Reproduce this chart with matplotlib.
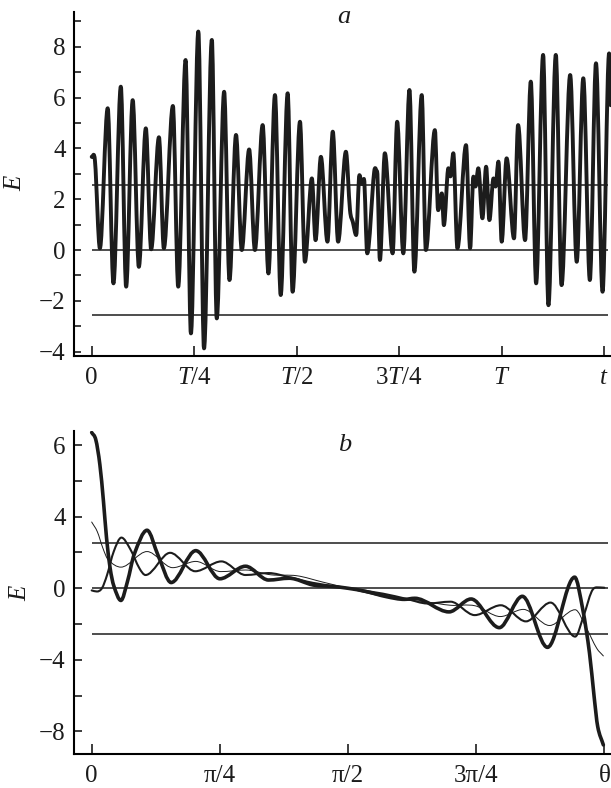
# E(t) signal and angular distributions E(theta)
import numpy as np
import matplotlib
matplotlib.use('Agg')
import matplotlib.pyplot as plt
from matplotlib.path import Path
from matplotlib.patches import PathPatch

plt.rcParams['font.family'] = 'serif'
plt.rcParams['font.serif'] = ['Liberation Serif', 'DejaVu Serif']
plt.rcParams['mathtext.fontset'] = 'custom'
plt.rcParams['mathtext.rm'] = 'Liberation Serif'
plt.rcParams['mathtext.it'] = 'Liberation Serif:italic'

## panel a: time in units of T, E values (peaks / troughs)
t_a = [0.000, 0.008, 0.020, 0.039, 0.053, 0.071, 0.084, 0.100, 0.115, 0.132,
       0.145, 0.164, 0.176, 0.198, 0.211, 0.229, 0.242, 0.260, 0.274, 0.293,
       0.305, 0.323, 0.336, 0.352, 0.366, 0.384, 0.398, 0.417, 0.431, 0.447,
       0.461, 0.478, 0.490, 0.508, 0.520, 0.537, 0.546, 0.559, 0.575, 0.588,
       0.601, 0.620, 0.630, 0.637, 0.645, 0.653, 0.659, 0.664, 0.672, 0.689,
       0.696, 0.703, 0.715, 0.734, 0.745, 0.760, 0.775, 0.787, 0.805, 0.815,
       0.837, 0.845, 0.854, 0.859, 0.870, 0.875, 0.882, 0.892, 0.913, 0.923,
       0.931, 0.936, 0.943, 0.953, 0.962, 0.970, 0.980, 0.985, 0.992, 1.000,
       1.012, 1.030, 1.040, 1.057, 1.071, 1.084, 1.101, 1.114, 1.132, 1.146,
       1.167, 1.183, 1.199, 1.215, 1.230, 1.246, 1.262, 1.266]
E_a = [3.67, 3.50, 0.07, 5.58, -1.31, 6.43, -1.44, 5.90, -0.66, 4.79,
       0.03, 4.44, 0.07, 5.67, -1.44, 7.48, -3.28, 8.60, -3.87, 8.27,
       -2.69, 6.23, -1.18, 4.53, 0.00, 3.96, 0.00, 4.92, -0.92, 6.10,
       -1.77, 6.17, -1.64, 5.05, -0.46, 2.82, 0.39, 3.67, 0.33, 4.66,
       0.33, 3.87, 1.57, 1.10, 0.59, 2.95, 2.60, 2.80, -0.13, 3.08,
       3.10, -0.39, 3.81, -0.13, 5.05, -0.13, 6.30, -0.85, 6.10, 0.00,
       4.72, 1.57, 2.23, 0.98, 3.22, 2.90, 3.81, 0.07, 4.13, 0.07,
       2.89, 2.50, 3.22, 1.25, 3.28, 1.18, 2.82, 2.50, 3.48, 0.33,
       3.61, 0.46, 4.92, 0.39, 6.63, -1.31, 7.68, -2.17, 7.68, -1.38,
       6.89, -0.46, 6.76, -1.18, 7.35, -1.64, 7.74, 5.70]
level = 2.55

## panel b: theta in units of pi, three curves
th_thick = [0.000, 0.008, 0.016, 0.023, 0.029, 0.036, 0.043, 0.057, 0.070, 0.083,
            0.108, 0.130, 0.155, 0.203, 0.250, 0.300, 0.345, 0.385, 0.432, 0.470,
            0.500, 0.535, 0.575, 0.610, 0.630, 0.697, 0.740, 0.795, 0.840, 0.889,
            0.942, 0.958, 0.971, 0.980, 0.987, 0.998]
E_thick = [8.70, 8.30, 6.90, 4.85, 2.80, 1.12, 0.15, -0.68, 0.40, 1.90,
           3.24, 1.80, 0.32, 2.10, 0.53, 1.23, 0.46, 0.56, 0.18, 0.10,
           0.00, -0.18, -0.47, -0.62, -0.56, -1.32, -0.60, -2.20, -0.45, -3.30,
           0.62, -1.21, -3.63, -6.06, -7.73, -8.75]

th_thin = [0.000, 0.011, 0.022, 0.032, 0.057, 0.108, 0.158, 0.203, 0.252, 0.300,
           0.350, 0.400, 0.450, 0.500, 0.550, 0.600, 0.650, 0.700, 0.748, 0.797,
           0.842, 0.893, 0.943, 0.965, 0.985, 0.998]
E_thin = [3.70, 3.16, 2.23, 1.60, 1.18, 2.05, 1.15, 1.50, 0.93, 1.02,
          0.75, 0.70, 0.35, 0.00, -0.35, -0.62, -0.75, -0.95, -0.98, -1.58,
          -1.18, -2.08, -1.20, -2.23, -3.35, -3.78]

th_mid = [0.000, 0.010, 0.020, 0.030, 0.043, 0.058, 0.075, 0.093, 0.105, 0.153,
          0.202, 0.253, 0.300, 0.345, 0.385, 0.432, 0.500, 0.568, 0.615, 0.655,
          0.700, 0.747, 0.798, 0.847, 0.895, 0.943, 0.960, 0.975, 0.985, 1.000]
E_mid = [-0.12, -0.18, 0.00, 0.74, 2.05, 2.83, 2.20, 1.12, 0.74, 1.98,
         0.95, 1.50, 0.74, 0.85, 0.62, 0.30, 0.00, -0.30, -0.60, -0.85,
         -0.75, -1.50, -0.95, -1.85, -0.80, -2.70, -1.50, -0.19, 0.05, 0.03]

ink = '#1c1c1c'
fs = 18

def smooth_line(ax, x, y, lw):
    # draw a smooth curve through the read points (cubic bezier, flat at peaks)
    x = np.asarray(x, float)
    y = np.asarray(y, float)
    n = len(x)
    s = np.zeros(n)
    for i in range(n):
        if i == 0:
            s[i] = (y[1] - y[0]) / (x[1] - x[0])
        elif i == n - 1:
            s[i] = (y[-1] - y[-2]) / (x[-1] - x[-2])
        elif (y[i] - y[i-1]) * (y[i+1] - y[i]) <= 0:
            s[i] = 0.0
        else:
            s[i] = (y[i+1] - y[i-1]) / (x[i+1] - x[i-1])
    verts = [(x[0], y[0])]
    codes = [Path.MOVETO]
    for i in range(n - 1):
        h = x[i+1] - x[i]
        verts += [(x[i] + h/3, y[i] + s[i]*h/3),
                  (x[i+1] - h/3, y[i+1] - s[i+1]*h/3),
                  (x[i+1], y[i+1])]
        codes += [Path.CURVE4] * 3
    ax.add_patch(PathPatch(Path(verts, codes), fill=False, edgecolor=ink,
                           lw=lw, joinstyle='round', capstyle='round'))

def style(ax):
    ax.spines['top'].set_visible(False)
    ax.spines['right'].set_visible(False)
    ax.spines['left'].set_linewidth(1.5)
    ax.spines['bottom'].set_linewidth(1.5)
    ax.tick_params(axis='both', direction='in', width=1.2, labelsize=fs, colors=ink)
    ax.tick_params(axis='x', length=7, pad=8)
    ax.tick_params(axis='y', length=5, pad=6)

fig = plt.figure(figsize=(6.11, 7.88), dpi=100)

# --- a ---
ax1 = fig.add_axes([0.1211, 0.5482, 0.8789, 0.4366])
smooth_line(ax1, t_a, E_a, 2.8)
for yv in (level, 0.0, -level):
    ax1.hlines(yv, 0.0, 1.26, color=ink, lw=1.1)
ax1.set_xlim(-0.0432, 1.2666)
ax1.set_ylim(-4.17, 9.37)
ax1.set_xticks([0, 0.25, 0.5, 0.75, 1.0, 1.25])
ax1.set_xticklabels(['0', '$T/4$', '$T/2$', '$3T/4$', '$T$', '$t$'])
ax1.set_yticks(np.arange(-4, 10))
ax1.set_yticklabels(['\u22124', '', '\u22122', '', '0', '', '2', '', '4', '', '6', '', '8', ''])
style(ax1)
fig.text(15/611, 1 - 183/788, 'E', style='italic', fontsize=fs, rotation=90,
         ha='center', va='center', color=ink)
fig.text(344/611, 1 - 17/788, 'a', style='italic', fontsize=fs + 1,
         ha='center', va='center', color=ink)

# --- b ---
ax2 = fig.add_axes([0.1211, 0.0431, 0.8789, 0.4103])
for yv in (level, 0.0, -level):
    ax2.hlines(yv, 0.0, 1.007, color=ink, lw=1.1)
smooth_line(ax2, th_thin, E_thin, 0.7)
smooth_line(ax2, th_mid, E_mid, 1.5)
smooth_line(ax2, th_thick, E_thick, 2.6)
ax2.set_xlim(-0.0345, 1.0129)
ax2.set_ylim(-9.26, 8.8)
ax2.set_xticks([0, 0.25, 0.5, 0.75, 1.0])
ax2.set_xticklabels(['0', '\u03c0/4', '\u03c0/2', '3\u03c0/4', '\u03b8'])
ax2.set_yticks(np.arange(-8, 9, 2))
ax2.set_yticklabels(['\u22128', '', '\u22124', '', '0', '', '4', '', '6'])
style(ax2)
ax2.tick_params(axis='y', length=6)
fig.text(20/611, 1 - 593/788, 'E', style='italic', fontsize=fs, rotation=90,
         ha='center', va='center', color=ink)
fig.text(345/611, 1 - 445/788, 'b', style='italic', fontsize=fs + 1,
         ha='center', va='center', color=ink)

plt.savefig('out.png', dpi=100)
